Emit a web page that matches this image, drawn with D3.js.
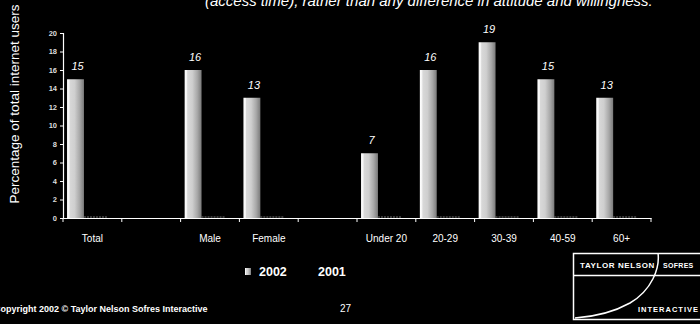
<!DOCTYPE html>
<html>
<head>
<meta charset="utf-8">
<script src="https://cdn.jsdelivr.net/npm/d3@7"></script>
<style>
  body { margin: 0; background: #000; }
  svg { display: block; font-family: Arial, "Liberation Sans", sans-serif; }
</style>
</head>
<body>
<div id="chart"></div>
<script>
// chart values
var categories = ["Total", "gap1", "Male", "Female", "gap2", "Under 20", "20-29", "30-39", "40-59", "60+"];
var catLabels  = ["Total", "", "Male", "Female", "", "Under 20", "20-29", "30-39", "40-59", "60+"];
var series = ["2002", "2001"];
var values2002 = [15, null, 16, 13, null, 7, 16, 19, 15, 13];
var yTicks = [0, 2, 4, 6, 8, 10, 12, 14, 16, 18, 20];

var W = 700, H = 324;
var margin = {top: 33, right: 49, bottom: 106, left: 63};

var svg = d3.select("#chart").append("svg")
    .attr("width", W)
    .attr("height", H);

svg.append("rect").attr("width", W).attr("height", H).attr("fill", "#000");

var defs = svg.append("defs");
var grad = defs.append("linearGradient")
    .attr("id", "barGrad")
    .attr("x1", "0%").attr("x2", "100%").attr("y1", "0%").attr("y2", "0%");
[["0%", "#ffffff"], ["12%", "#f4f4f4"], ["18%", "#d8d8d8"], ["45%", "#cfcfcf"], ["75%", "#a8a8a8"], ["100%", "#7a7a7a"]]
  .forEach(function(s) { grad.append("stop").attr("offset", s[0]).attr("stop-color", s[1]); });

var x0 = d3.scaleBand()
    .domain(categories)
    .range([margin.left, W - margin.right])
    .padding(0);

var x1 = d3.scaleBand()
    .domain(series)
    .range([0, x0.bandwidth()])
    .paddingInner(0.5)
    .paddingOuter(0.12);

var y = d3.scaleLinear()
    .domain([0, 20])
    .range([H - margin.bottom, margin.top]);

// title line, mostly cut off by top edge
svg.append("text")
    .attr("x", 205)
    .attr("y", 6)
    .attr("fill", "#fff")
    .attr("font-size", 15)
    .attr("font-style", "italic")
    .text("(access time), rather than any difference in attitude and willingness.");

// y axis
var yAxis = d3.axisLeft(y).tickValues(yTicks).tickSize(3).tickPadding(3);
var gy = svg.append("g")
    .attr("transform", "translate(" + margin.left + ",0)")
    .call(yAxis);
gy.select(".domain").attr("stroke", "#fff").attr("stroke-width", 1.2);
gy.selectAll(".tick line").attr("stroke", "#fff");
gy.selectAll(".tick text")
    .attr("fill", "#ddd")
    .attr("font-size", 7.5)
    .attr("font-weight", "bold");

// x axis
var xAxis = d3.axisBottom(x0).tickSize(0).tickFormat(function(d, i) { return catLabels[i]; });
var gx = svg.append("g")
    .attr("transform", "translate(0," + y(0) + ")")
    .call(xAxis);
gx.select(".domain").attr("stroke", "#fff").attr("stroke-width", 1.2);
gx.selectAll(".tick text")
    .attr("fill", "#fff")
    .attr("font-size", 10)
    .attr("dy", "2.1em");

// tick marks at band edges
var edges = categories.map(function(c) { return x0(c); }).concat([W - margin.right]);
gx.selectAll(".edge")
    .data(edges)
  .enter().append("line")
    .attr("class", "edge")
    .attr("x1", function(d) { return d; })
    .attr("x2", function(d) { return d; })
    .attr("y1", 0)
    .attr("y2", 4)
    .attr("stroke", "#fff");

// bars (2002 only is visible; 2001 is black on black)
var barData = categories.map(function(c, i) { return {cat: c, v: values2002[i]}; })
    .filter(function(d) { return d.v !== null; });

svg.selectAll(".shadow")
    .data(barData)
  .enter().append("line")
    .attr("class", "shadow")
    .attr("x1", function(d) { return x0(d.cat) + x1("2002") + x1.bandwidth(); })
    .attr("x2", function(d) { return x0(d.cat) + x0.bandwidth() * 0.75; })
    .attr("y1", y(0) - 1)
    .attr("y2", y(0) - 1)
    .attr("stroke", "#777")
    .attr("stroke-dasharray", "2,1");

svg.selectAll(".bar")
    .data(barData)
  .enter().append("rect")
    .attr("class", "bar")
    .attr("x", function(d) { return x0(d.cat) + x1("2002"); })
    .attr("y", function(d) { return y(d.v); })
    .attr("width", x1.bandwidth())
    .attr("height", function(d) { return y(0) - y(d.v); })
    .attr("fill", "url(#barGrad)");

svg.selectAll(".val")
    .data(barData)
  .enter().append("text")
    .attr("class", "val")
    .attr("x", function(d) { return x0(d.cat) + x1("2002") + x1.bandwidth() / 2 + 2; })
    .attr("y", function(d) { return y(d.v) - 9; })
    .attr("text-anchor", "middle")
    .attr("fill", "#fff")
    .attr("font-size", 11)
    .attr("font-style", "italic")
    .text(function(d) { return d.v; });

// y axis title
svg.append("text")
    .attr("transform", "translate(19," + 104 + ") rotate(-90)")
    .attr("text-anchor", "middle")
    .attr("fill", "#fff")
    .attr("font-size", 13.5)
    .text("Percentage of total internet users");

// legend
var legend = svg.append("g").attr("transform", "translate(245,276)");
legend.append("rect")
    .attr("x", 0).attr("y", -8)
    .attr("width", 6).attr("height", 7)
    .attr("fill", "url(#barGrad)");
legend.append("text")
    .attr("x", 14).attr("y", 0)
    .attr("fill", "#fff")
    .attr("font-size", 12.5)
    .attr("font-weight", "bold")
    .text("2002");
legend.append("rect")
    .attr("x", 64).attr("y", -8)
    .attr("width", 6).attr("height", 7)
    .attr("fill", "#000");
legend.append("text")
    .attr("x", 73).attr("y", 0)
    .attr("fill", "#fff")
    .attr("font-size", 12.5)
    .attr("font-weight", "bold")
    .text("2001");

// footer
svg.append("text")
    .attr("x", -6).attr("y", 312)
    .attr("fill", "#fff")
    .attr("font-size", 9)
    .attr("font-weight", "bold")
    .text("Copyright 2002 \u00a9 Taylor Nelson Sofres Interactive");
svg.append("text")
    .attr("x", 340).attr("y", 312)
    .attr("fill", "#fff")
    .attr("font-size", 10)
    .text("27");

// logo
var logo = svg.append("g");
logo.append("rect")
    .attr("x", 573.5).attr("y", 253.5)
    .attr("width", 140).attr("height", 66)
    .attr("fill", "none").attr("stroke", "#fff").attr("stroke-width", 1.5);
logo.append("line")
    .attr("x1", 573).attr("x2", 700)
    .attr("y1", 275.5).attr("y2", 275.5)
    .attr("stroke", "#fff").attr("stroke-width", 1.5);
logo.append("path")
    .attr("d", "M658,253 C660,268 652,290 630,303 C612,313 590,317 575,318")
    .attr("fill", "none").attr("stroke", "#fff").attr("stroke-width", 1.5);
logo.append("text")
    .attr("x", 580).attr("y", 268)
    .attr("fill", "#fff").attr("font-size", 8).attr("font-weight", "bold")
    .attr("letter-spacing", 0.6)
    .text("TAYLOR NELSON");
logo.append("text")
    .attr("x", 663).attr("y", 268)
    .attr("fill", "#fff").attr("font-size", 7).attr("font-weight", "bold")
    .attr("letter-spacing", 0.3)
    .text("SOFRES");
logo.append("text")
    .attr("x", 638).attr("y", 312)
    .attr("fill", "#fff").attr("font-size", 7.5).attr("font-weight", "bold")
    .attr("letter-spacing", 1)
    .text("INTERACTIVE");
</script>
</body>
</html>
